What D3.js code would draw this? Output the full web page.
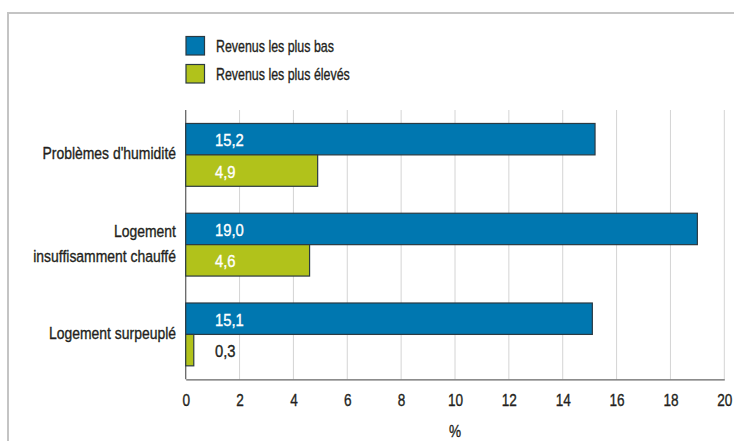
<!DOCTYPE html>
<html><head><meta charset="utf-8">
<script src="https://cdn.jsdelivr.net/npm/d3@7"></script>
<style>
body{margin:0;background:#fff;}
text{font-family:"Liberation Sans Narrow","Arial Narrow","Liberation Sans",sans-serif;}
</style></head>
<body><svg id="chart" width="734" height="441"></svg>
<script>
const categories = [["Problèmes d'humidité"], ["Logement", "insuffisamment chauffé"], ["Logement surpeuplé"]];
const seriesNames = ["Revenus les plus bas", "Revenus les plus élevés"];
const lowIncome = [15.2, 19.0, 15.1];
const highIncome = [4.9, 4.6, 0.3];
const xTicks = [0, 2, 4, 6, 8, 10, 12, 14, 16, 18, 20];
const xLabel = "%";
const colors = ["#0077b0", "#b1c21b"];

const FS = 17;
const INK = "#231f20";
function narrow(sel, ax, k) {
  sel.attr("transform", `translate(${ax},0) scale(${k},1) translate(${-ax},0)`);
}
function heavy(sel, c) {
  sel.attr("stroke", c).attr("stroke-width", 0.35);
}

const svg = d3.select("#chart");
svg.append("path").attr("d", "M8,445 L8,13 L740,13").attr("fill", "none")
  .attr("stroke", "#c4c4c4").attr("stroke-width", 2);

const x = d3.scaleLinear().domain([0, 20]).range([185.7, 724.3]);
const y = d3.scaleBand().domain(d3.range(categories.length)).range([110, 379.3])
  .paddingInner(0.3).paddingOuter(0.15);
const sub = d3.scaleBand().domain([0, 1]).range([0, y.bandwidth()]);

svg.append("g").selectAll("line").data(xTicks.slice(1)).join("line")
  .attr("x1", d => x(d)).attr("x2", d => x(d)).attr("y1", 110).attr("y2", 379.3)
  .attr("stroke", "#d4d4d4").attr("stroke-width", 1);

const xa = svg.append("g").attr("transform", "translate(0,379.3)")
  .call(d3.axisBottom(x).tickValues(xTicks).tickSize(0).tickPadding(14.3).tickFormat(d3.format("d")));
xa.select(".domain").attr("stroke", "#666").attr("stroke-width", 1.3);
xa.selectAll("text").attr("font-size", FS).attr("fill", INK)
  .attr("transform", "scale(0.8,1)").call(heavy, INK);
const xl = svg.append("text").attr("x", (x(0) + x(20)) / 2).attr("y", 437).attr("text-anchor", "middle")
  .attr("font-size", FS).attr("fill", INK).text(xLabel).call(heavy, INK);
narrow(xl, (x(0) + x(20)) / 2, 0.8);

svg.append("line").attr("x1", x(0)).attr("x2", x(0)).attr("y1", 110).attr("y2", 379.3)
  .attr("stroke", "#666").attr("stroke-width", 1.3);

const series = [lowIncome, highIncome];
series.forEach((vals, s) => {
  const g = svg.append("g");
  g.selectAll("rect").data(vals).join("rect")
    .attr("x", x(0)).attr("y", (d, i) => y(i) + sub(s))
    .attr("width", d => x(d) - x(0)).attr("height", sub.bandwidth())
    .attr("fill", colors[s]).attr("stroke", "#2b3a42").attr("stroke-width", 1.2);
  const t = g.selectAll("text").data(vals).join("text")
    .attr("x", 215).attr("y", (d, i) => y(i) + sub(s) + sub.bandwidth() / 2 + 7)
    .attr("font-size", FS)
    .attr("fill", d => (x(d) - x(0) > 50 ? "#fff" : INK))
    .attr("stroke", d => (x(d) - x(0) > 50 ? "#fff" : INK)).attr("stroke-width", 0.35)
    .text(d => d3.format(".1f")(d).replace(".", ","));
  narrow(t, 215, 0.87);
});

categories.forEach((lines, i) => {
  const cy = y(i) + y.bandwidth() / 2;
  const t = svg.append("text").attr("text-anchor", "end").attr("font-size", FS).attr("fill", INK).call(heavy, INK);
  lines.forEach((l, k) => {
    t.append("tspan").attr("x", 176)
      .attr("y", cy + 4.5 + (k - (lines.length - 1) / 2) * 25).text(l);
  });
  narrow(t, 176, 0.82);
});

seriesNames.forEach((n, s) => {
  svg.append("rect").attr("x", 186).attr("y", 36.5 + s * 28).attr("width", 18.5).attr("height", 18.5)
    .attr("fill", colors[s]).attr("stroke", "#2b3a42").attr("stroke-width", 1.2);
  const t = svg.append("text").attr("x", 216).attr("y", 51.7 + s * 28).attr("font-size", FS)
    .attr("fill", INK).text(n).call(heavy, INK);
  narrow(t, 216, 0.73);
});
</script></body></html>
